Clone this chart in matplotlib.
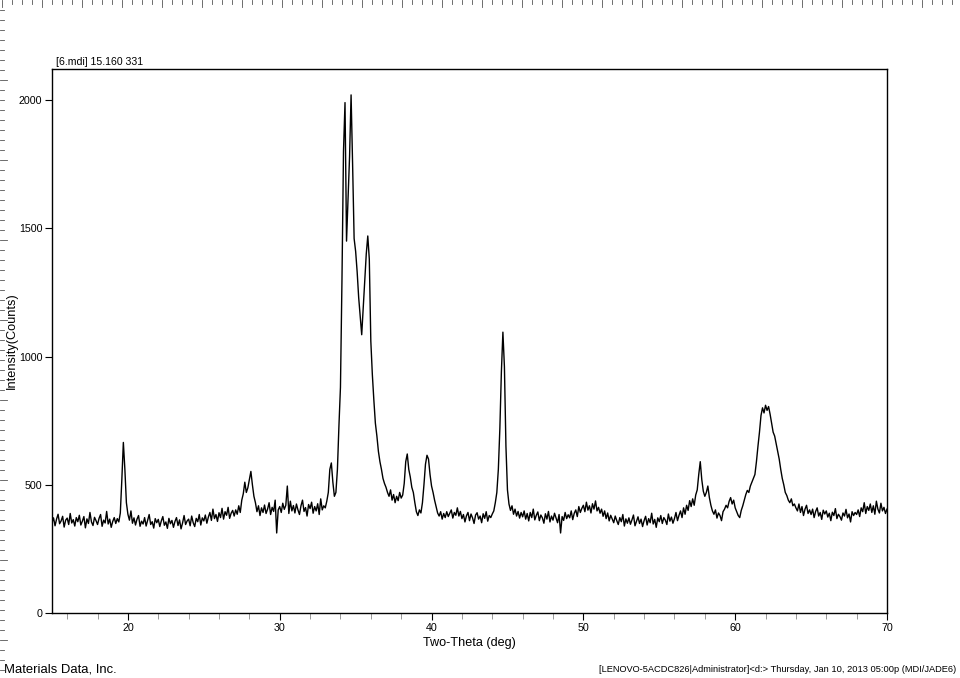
import numpy as np
import matplotlib
matplotlib.use("Agg")
import matplotlib.pyplot as plt
from matplotlib.lines import Line2D

plt.rcParams['font.family'] = ['Liberation Sans', 'DejaVu Sans']

# scan settings (deg)
start_angle = 15.0
step_size = 0.1

# counts, one row per degree (15.0 .. 70.0)
counts = [
    352, 371, 340, 366, 385, 348, 359, 377, 335, 362,
    370, 345, 388, 351, 364, 339, 372, 356, 381, 343,
    358, 376, 332, 367, 349, 392, 355, 341, 373, 360,
    345, 369, 384, 338, 362, 351, 396, 347, 366, 334,
    357, 372, 349, 368, 355, 390, 520, 665, 560, 430,
    385, 362, 398, 350, 371, 343, 366, 380, 338, 358,
    347, 372, 339, 361, 384, 345, 356, 331, 368, 352,
    365, 337, 359, 376, 342, 355, 330, 369, 348, 361,
    334, 357, 372, 341, 363, 328, 351, 380, 345, 359,
    366, 340, 378, 352, 337, 369, 356, 384, 343, 371,
    359, 382, 350, 374, 392, 361, 405, 368, 384, 357,
    391, 372, 408, 366, 395, 381, 412, 369, 389, 400,
    378, 402, 385, 418, 392, 440, 465, 510, 470, 488,
    520, 552, 500, 455, 430, 395, 418, 380, 410, 392,
    421, 388, 405, 430, 384, 412, 396, 440, 312, 402,
    415, 392, 428, 404, 420, 495, 388, 436, 398, 419,
    390, 425, 402, 384, 418, 440, 396, 411, 378, 423,
    407, 432, 389, 415, 398, 426, 384, 445, 402, 418,
    410, 436, 470, 560, 585, 510, 455, 470, 560, 730,
    880, 1300, 1800, 1990, 1450, 1620, 1780, 2020, 1750, 1460,
    1410, 1330, 1230, 1160, 1085, 1190, 1300, 1400, 1470, 1380,
    1060, 930, 830, 740, 690, 630, 590, 560, 525, 505,
    490, 470, 455, 480, 440, 462, 430, 455, 438, 470,
    448, 460, 505, 590, 620, 560, 530, 490, 470, 430,
    395, 380, 402, 390, 430, 500, 580, 615, 600, 540,
    495, 470, 440, 415, 390, 378, 395, 366, 388, 372,
    395, 376, 389, 402, 370, 392, 381, 410, 378, 396,
    368, 384, 355, 379, 392, 360, 386, 371, 349, 382,
    391, 366, 378, 352, 387, 369, 395, 358, 380, 372,
    386, 398, 430, 470, 560, 720, 940, 1095, 960, 650,
    480, 425, 400, 418, 385, 405, 378, 396, 370, 392,
    375, 398, 366, 388, 359, 392, 372, 405, 363, 381,
    394, 360, 382, 371, 350, 387, 366, 396, 355, 378,
    362, 389, 370, 352, 384, 312, 376, 361, 392, 368,
    383, 371, 398, 364, 389, 402, 376, 415, 392, 408,
    420, 395, 432, 401, 418, 390, 426, 405, 437, 398,
    412, 389, 405, 377, 398, 368, 390, 359, 381, 366,
    352, 378, 360, 345, 372, 356, 384, 339, 367, 350,
    371, 346, 363, 382, 340, 358, 375, 349, 366, 337,
    360, 377, 343, 368, 352, 389, 347, 365, 334, 371,
    356, 380, 349, 372, 362, 345, 386, 358, 374, 350,
    368, 392, 360, 381, 398, 372, 410, 385, 420, 400,
    438, 415, 445, 420, 460, 480, 540, 590, 520, 475,
    455, 470, 495, 450, 420, 398, 385, 402, 370, 390,
    380, 360, 395, 405, 420, 410, 435, 450, 425, 440,
    410, 395, 380, 372, 400, 418, 440, 462, 478, 470,
    495, 510, 525, 540, 590, 650, 705, 770, 800, 780,
    810, 790, 805, 775, 740, 705, 690, 660, 630, 600,
    560, 525, 500, 470, 458, 440, 430, 445, 418, 425,
    410, 398, 425, 392, 415, 380, 405, 420, 388, 402,
    384, 405, 372, 396, 410, 378, 392, 365, 401, 386,
    398, 374, 389, 360, 393, 380, 407, 368, 385, 376,
    362, 390, 378, 404, 371, 386, 355, 395, 380, 392,
    384, 402, 376, 410, 395, 430, 388, 415, 400, 425,
    392, 418, 385, 436, 405, 390, 428, 398, 412, 388,
    405,
]

x_ticks = [20, 30, 40, 50, 60, 70]
y_ticks = [0, 500, 1000, 1500, 2000]

two_theta = start_angle + step_size * np.arange(len(counts))

fig = plt.figure(figsize=(9.6, 6.78), dpi=100)
ax = fig.add_axes([52/960, 65/678, 835/960, 544/678])
ax.plot(two_theta, counts, color='black', lw=1.0)

ax.set_xlim(15, 70)
ax.set_ylim(0, 2121)
ax.set_xticks(x_ticks)
ax.set_xticks(np.arange(16, 70, 2), minor=True)
ax.set_yticks(y_ticks)
ax.tick_params(axis='both', which='major', length=5, width=0.8, labelsize=7.7, pad=2)
ax.tick_params(axis='x', which='minor', length=4, width=0.6, color='#888888')
for s in ax.spines.values():
    s.set_linewidth(1.0)

ax.set_xlabel("Two-Theta (deg)", fontsize=9.1, labelpad=3)
ax.set_ylabel("Intensity(Counts)", fontsize=9.2)
ax.yaxis.set_label_coords(-0.041, 0.5)
ax.text(0.005, 1.003, "[6.mdi] 15.160 331", transform=ax.transAxes, fontsize=7.6, va='bottom')

fig.text(4/960, 1 - 669/678, "Materials Data, Inc.", fontsize=9.4, va='center', ha='left')
fig.text(956/960, 1 - 670/678,
         "[LENOVO-5ACDC826|Administrator]<d:> Thursday, Jan 10, 2013 05:00p (MDI/JADE6)",
         fontsize=6.7, va='center', ha='right')

# page rulers along top and left edges
W, H = 960, 678
for px in range(2, W, 10):
    ln = 7 if px % 40 == 2 else 4
    fig.add_artist(Line2D([px/W, px/W], [1, 1 - ln/H], color='#555555', lw=0.6))
for py in range(10, H, 10):
    ln = 7 if py % 80 == 0 else 4
    fig.add_artist(Line2D([0, ln/W], [1 - py/H, 1 - py/H], color='#555555', lw=0.6))

fig.savefig("out.png", dpi=100)
